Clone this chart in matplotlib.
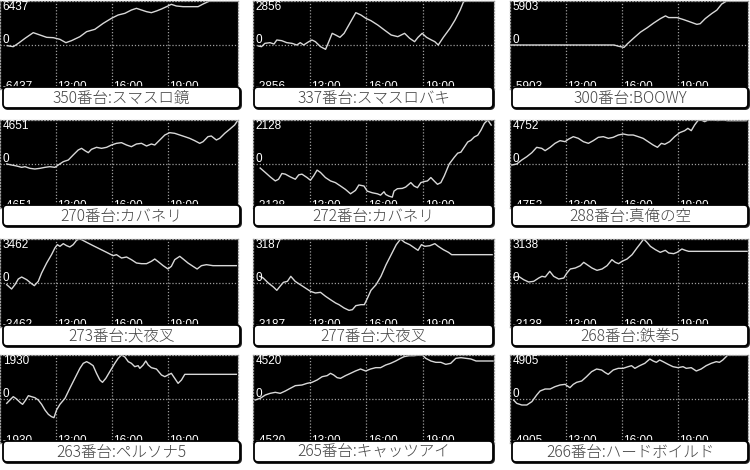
import matplotlib
matplotlib.use('Agg')
import matplotlib.pyplot as plt
from matplotlib.patches import FancyBboxPatch

# ---------------- data ----------------
titles = ["350番台:スマスロ鏡", "337番台:スマスロバキ", "300番台:BOOWY",
          "270番台:カバネリ", "272番台:カバネリ", "288番台:真俺の空",
          "273番台:犬夜叉", "277番台:犬夜叉", "268番台:鉄拳5",
          "263番台:ペルソナ5", "265番台:キャッツアイ", "266番台:ハードボイルド"]
maxes = [6437, 2856, 5903, 4651, 2128, 4752, 3462, 3187, 3138, 1930, 4520, 4905]

tick_hours = [13, 16, 19]
tick_labels = ["13:00", "16:00", "19:00"]
x_start, x_end = 10.0, 22.75

t_350 = [10.39, 10.71, 10.98, 11.34, 11.78, 12.14, 12.50, 12.85, 13.21, 13.53, 13.83, 14.28, 14.64, 15.08,
         15.53, 15.97, 16.33, 16.69, 17.04, 17.31, 17.58, 17.85, 18.11, 18.38, 18.65, 18.92, 19.18, 19.45,
         19.81, 20.25, 20.61, 20.88, 21.23, 22.75]
v_350 = [-98, -244, 244, 975, 1804, 1463, 1122, 1073, 829, 341, 634, 1219, 1951, 2292,
         3170, 3901, 4389, 4633, 5120, 5364, 5120, 4877, 4730, 4974, 5267, 5608, 5949, 5705,
         5608, 5608, 5608, 5998, 6437, 6437]

t_337 = [10.28, 10.45, 10.63, 10.90, 11.11, 11.26, 11.52, 11.79, 12.06, 12.32, 12.50, 12.68, 12.95, 13.12,
         13.30, 13.57, 13.84, 14.01, 14.19, 14.37, 14.60, 14.82, 15.17, 15.44, 15.71, 15.97, 16.24, 16.60,
         16.95, 17.31, 17.66, 18.02, 18.29, 18.55, 18.73, 18.95, 19.18, 19.44, 19.62, 19.80, 20.07, 20.42,
         20.69, 20.96, 21.14, 21.31, 22.75]
v_337 = [-65, -108, 108, 151, 65, 325, 281, 151, 108, 0, 151, 0, 216, 325,
         216, -108, -281, 216, 757, 649, 498, 757, 1515, 2099, 1947, 1731, 1579, 1298,
         974, 649, 541, 757, 433, 216, 498, 757, 498, 325, 216, 0, 498, 1082,
         1623, 2272, 2813, 2856, 2856]

t_300 = [10.07, 15.57, 15.84, 16.11, 16.28, 16.64, 16.99, 17.35, 17.70, 18.06, 18.33, 18.50, 18.95, 19.30,
         19.66, 20.01, 20.19, 20.46, 20.81, 21.08, 21.34, 21.61, 22.70]
v_300 = [0, 0, -182, -318, 136, 954, 1726, 2316, 2952, 3542, 3905, 3678, 3678, 3406,
         3088, 2770, 2861, 3542, 4223, 4677, 5494, 5903, 5903]

t_270 = [10.36, 10.62, 10.89, 11.16, 11.34, 11.60, 11.87, 12.14, 12.41, 12.67, 12.94, 13.12, 13.39, 13.66,
         13.92, 14.19, 14.37, 14.55, 14.73, 14.90, 15.17, 15.44, 15.71, 15.97, 16.24, 16.51, 16.78, 17.04,
         17.31, 17.58, 17.85, 18.11, 18.29, 18.56, 18.83, 19.09, 19.36, 19.63, 19.90, 20.16, 20.43, 20.70,
         20.88, 21.14, 21.32, 21.59, 21.77, 22.04, 22.30, 22.57, 22.75]
v_270 = [0, -106, -211, -352, -282, -458, -529, -458, -352, -282, -352, -106, 247, 423,
         951, 1480, 1656, 1409, 1198, 1550, 1762, 1656, 1762, 2008, 2185, 2255, 2008, 1832,
         2114, 2185, 1903, 2114, 2008, 2537, 3065, 3312, 3242, 3065, 2889, 2713, 2466, 2185,
         2361, 2889, 2960, 2537, 2713, 3242, 3664, 4123, 4651]

t_272 = [10.38, 10.65, 10.91, 11.18, 11.35, 11.53, 11.71, 11.97, 12.24, 12.42, 12.59, 12.86, 13.04, 13.21,
         13.39, 13.57, 13.83, 14.10, 14.36, 14.63, 14.89, 15.16, 15.42, 15.60, 15.87, 16.04, 16.31, 16.58,
         16.75, 16.93, 17.02, 17.19, 17.37, 17.46, 17.64, 17.90, 18.08, 18.35, 18.52, 18.70, 18.88, 19.05,
         19.23, 19.41, 19.58, 19.76, 19.94, 20.12, 20.38, 20.65, 20.83, 21.00, 21.18, 21.36, 21.53, 21.71,
         21.89, 22.06, 22.24, 22.42, 22.60]
v_272 = [-196, -409, -622, -818, -737, -458, -491, -622, -737, -524, -491, -655, -786, -573,
         -295, -409, -655, -818, -900, -1064, -1228, -1441, -1277, -1015, -1064, -1310, -1391, -1441,
         -1506, -1342, -1473, -1555, -1604, -1310, -1195, -1179, -1113, -900, -1064, -1146, -900, -851,
         -818, -655, -818, -982, -900, -573, 0, 327, 524, 573, 818, 1064, 1146, 1310,
         1391, 1637, 1964, 2128, 1882]

t_288 = [10.10, 10.36, 10.63, 10.90, 11.17, 11.43, 11.70, 11.88, 12.15, 12.41, 12.68, 12.95, 13.12, 13.39,
         13.66, 13.93, 14.20, 14.46, 14.73, 15.00, 15.27, 15.53, 15.80, 16.07, 16.33, 16.60, 16.87, 17.13,
         17.40, 17.67, 17.90, 18.11, 18.29, 18.55, 18.82, 19.09, 19.36, 19.53, 19.71, 19.89, 20.07, 20.25,
         20.43, 20.61, 20.88, 21.14, 21.41, 21.67, 22.65]
v_288 = [-108, 0, 432, 792, 1224, 1800, 1692, 1440, 1800, 2232, 2520, 2412, 2664, 2952,
         2772, 2412, 2232, 2520, 2880, 2952, 2772, 2880, 3132, 3240, 3132, 3132, 2952, 2772,
         2412, 2052, 1800, 2232, 2124, 2412, 2952, 3384, 3600, 3852, 3600, 4212, 4700, 4752,
         4572, 4752, 4752, 4700, 4752, 4680, 4680]

t_273 = [10.36, 10.62, 10.80, 10.98, 11.16, 11.43, 11.69, 11.84, 12.05, 12.23, 12.50, 12.76, 12.94, 13.07,
         13.21, 13.39, 13.57, 13.74, 13.92, 14.10, 14.24, 14.37, 14.64, 14.99, 15.35, 15.71, 16.06, 16.24,
         16.51, 16.78, 17.04, 17.31, 17.58, 17.85, 18.11, 18.29, 18.52, 18.74, 19.00, 19.18, 19.36, 19.63,
         19.81, 20.07, 20.34, 20.56, 20.79, 21.06, 21.41, 22.66]
v_273 = [-131, -472, -131, 315, 472, 262, -52, -210, 131, 787, 1574, 2229, 2754, 3016,
         2885, 3095, 2937, 2833, 3016, 3357, 3462, 3410, 3200, 2937, 2675, 2413, 2151, 2229,
         1967, 2046, 1836, 1574, 1521, 1521, 1705, 1888, 1626, 1364, 1102, 1311, 1836, 2098,
         1888, 1574, 1311, 1102, 1364, 1442, 1364, 1364]

t_277 = [10.36, 10.54, 10.81, 11.08, 11.26, 11.43, 11.61, 11.82, 12.00, 12.23, 12.50, 12.77, 13.04, 13.30,
         13.57, 13.84, 14.10, 14.37, 14.55, 14.82, 15.08, 15.26, 15.44, 15.71, 15.89, 16.06, 16.24, 16.51,
         16.77, 17.04, 17.31, 17.58, 17.81, 18.02, 18.29, 18.55, 18.73, 18.91, 19.09, 19.36, 19.62, 19.80,
         20.07, 20.34, 20.51, 21.23, 22.65]
v_277 = [483, 362, 0, -290, -531, -241, 48, 121, 483, 121, -121, -362, -604, -724,
         -676, -966, -1207, -1449, -1569, -1811, -1980, -1932, -1642, -1569, -1569, -1086, -531, -121,
         483, 1328, 2052, 2777, 3187, 2946, 2777, 2535, 2366, 2777, 2656, 2704, 2849, 2656,
         2414, 2221, 2052, 2052, 2052]

t_268 = [10.20, 10.46, 10.73, 11.00, 11.27, 11.54, 11.71, 11.89, 12.13, 12.34, 12.61, 12.88, 13.05, 13.23,
         13.50, 13.77, 13.95, 14.13, 14.39, 14.66, 14.93, 15.20, 15.46, 15.64, 15.82, 16.00, 16.27, 16.54,
         16.80, 16.98, 17.16, 17.34, 17.52, 17.79, 18.05, 18.32, 18.50, 18.77, 18.95, 19.21, 19.39, 19.57,
         20.20, 22.70]
v_268 = [404, 475, 238, 71, 119, 357, 475, 428, 832, 475, 285, 357, 713, 998,
         1070, 1236, 1474, 1307, 1070, 903, 998, 1236, 1664, 1474, 1379, 1545, 1712, 2021,
         2496, 2805, 3138, 2900, 2615, 2377, 2187, 2330, 2140, 2092, 2187, 2425, 2330, 2259,
         2259, 2259]

t_263 = [10.36, 10.53, 10.71, 10.89, 11.07, 11.21, 11.34, 11.52, 11.69, 11.87, 12.05, 12.23, 12.41, 12.59,
         12.76, 12.89, 13.03, 13.21, 13.48, 13.74, 14.01, 14.28, 14.46, 14.64, 14.81, 14.99, 15.17, 15.35,
         15.49, 15.67, 15.88, 16.15, 16.33, 16.51, 16.69, 16.87, 17.04, 17.22, 17.40, 17.49, 17.67, 17.81,
         17.94, 18.11, 18.38, 18.65, 18.83, 19.00, 19.18, 19.36, 19.54, 19.72, 19.90, 20.16, 22.66]
v_263 = [-190, -44, 102, 0, -146, -234, -88, 146, 102, 58, -44, -234, -483, -673,
         -775, -819, -483, -234, 29, 468, 907, 1345, 1565, 1638, 1565, 1462, 1126, 833,
         731, 907, 1199, 1565, 1785, 1930, 1842, 1638, 1565, 1418, 1462, 1345, 1491, 1667,
         1491, 1374, 1316, 1053, 980, 1053, 1126, 907, 687, 833, 1082, 1082, 1082]

t_265 = [10.12, 10.38, 10.65, 10.91, 11.18, 11.44, 11.71, 11.97, 12.24, 12.59, 12.86, 13.12, 13.39, 13.66,
         13.92, 14.10, 14.27, 14.45, 14.63, 14.89, 15.16, 15.42, 15.69, 15.96, 16.22, 16.49, 16.75, 17.02,
         17.28, 17.55, 17.81, 17.99, 18.26, 18.52, 18.79, 18.96, 19.14, 19.41, 19.67, 19.94, 20.20, 20.46,
         20.73, 21.00, 21.27, 21.53, 21.80, 22.70]
v_265 = [-103, 68, 411, 582, 685, 582, 822, 1096, 1370, 1438, 1609, 1712, 1952, 2294,
         2397, 2637, 2465, 2192, 2123, 2397, 2637, 2876, 3082, 2876, 3082, 3219, 3219, 3493,
         3664, 3904, 4178, 4349, 4451, 4451, 4520, 4520, 4178, 3904, 3767, 3767, 3561, 3664,
         4178, 4246, 4178, 4109, 3904, 3904]

t_266 = [10.19, 10.36, 10.63, 10.90, 11.17, 11.43, 11.61, 11.88, 12.15, 12.41, 12.68, 12.95, 13.21, 13.39,
         13.57, 13.84, 14.10, 14.37, 14.64, 14.91, 15.08, 15.26, 15.53, 15.80, 16.06, 16.33, 16.51, 16.69,
         16.95, 17.22, 17.49, 17.67, 17.84, 18.02, 18.20, 18.47, 18.73, 19.00, 19.27, 19.44, 19.71, 19.98,
         20.24, 20.51, 20.78, 21.05, 21.22, 21.40, 21.67, 22.65]
v_266 = [-111, -483, -669, -669, -297, 446, 892, 1115, 1115, 1375, 1561, 1635, 1263, 1635,
         1858, 2007, 2490, 3047, 3344, 3233, 2973, 2750, 3233, 3419, 3419, 3604, 3716, 3419,
         3716, 3976, 4459, 4236, 4087, 4348, 4162, 3865, 3604, 3493, 3604, 3419, 3493, 3121,
         3344, 3716, 3976, 4162, 4087, 4348, 4905, 4905]

series_t = [t_350, t_337, t_300, t_270, t_272, t_288, t_273, t_277, t_268, t_263, t_265, t_266]
series_v = [v_350, v_337, v_300, v_270, v_272, v_288, v_273, v_277, v_268, v_263, v_265, v_266]

# ---------------- layout (pixels) ----------------
W, H = 750, 470
col_left = [0, 253, 510]
col_w = [238, 241, 238]
row_top = [1, 120, 239, 355]
panel_h = 88
box_left = [3, 254, 512]
box_right = [240, 493, 748]
box_top = [87, 205, 325, 441]
box_h = 21

fig = plt.figure(figsize=(W / 100, H / 100), dpi=100)
fig.patch.set_facecolor('white')

grid_col = '#9c9c9c'
lab_font = dict(family=['Liberation Sans', 'DejaVu Sans'], size=8.5, color='white')

for i in range(12):
    r, c = divmod(i, 3)
    left = col_left[c] / W
    bottom = 1 - (row_top[r] + panel_h) / H
    ax = fig.add_axes([left, bottom, col_w[c] / W, panel_h / H])
    ax.set_facecolor('black')
    m = maxes[i]
    ax.plot(series_t[i], series_v[i], color='#d8d8d8', lw=1.0, solid_joinstyle='round')
    ax.set_xlim(x_start, x_end)
    ax.set_ylim(-m, m)
    ax.set_xticks(tick_hours)
    ax.set_yticks([0])
    ax.grid(True, color=grid_col, lw=0.9, linestyle=(0, (1, 1.5)))
    ax.tick_params(length=0, labelbottom=False, labelleft=False)
    for s in ax.spines.values():
        s.set_color(grid_col)
        s.set_linewidth(0.9)
        s.set_linestyle((0, (1, 1.5)))
    tr = ax.get_yaxis_transform()
    ax.text(0.012, m, str(m), transform=tr, va='top', ha='left', **lab_font)
    ax.text(0.012, m * 0.04, "0", transform=tr, va='baseline', ha='left', **lab_font)
    ax.text(0.012, -m * 1.03, "-" + str(m), transform=tr, va='baseline', ha='left', **lab_font)
    for th, tl in zip(tick_hours, tick_labels):
        ax.text(th + 0.08, -m * 1.03, tl, va='baseline', ha='left', **lab_font)

# overlay for label boxes
ov = fig.add_axes([0, 0, 1, 1], zorder=20)
ov.set_xlim(0, W)
ov.set_ylim(H, 0)
ov.axis('off')
ov.patch.set_alpha(0)

for i in range(12):
    r, c = divmod(i, 3)
    x0, x1 = box_left[c], box_right[c]
    y0 = box_top[r]
    shadow = FancyBboxPatch((x0 + 1, y0 + 1), x1 - x0, box_h,
                            boxstyle="round,pad=0,rounding_size=4",
                            facecolor='#222222', edgecolor='#222222', lw=1.4)
    ov.add_patch(shadow)
    p = FancyBboxPatch((x0, y0), x1 - x0, box_h,
                       boxstyle="round,pad=0,rounding_size=4",
                       facecolor='white', edgecolor='black', lw=1.3)
    ov.add_patch(p)
    ov.text((x0 + x1) / 2, y0 + box_h / 2 + 0.5, titles[i], ha='center', va='center',
            family=['Noto Sans CJK JP', 'DejaVu Sans'], weight='light', size=11.2, color='#444444')

fig.savefig('out.png', dpi=100, facecolor='white')
